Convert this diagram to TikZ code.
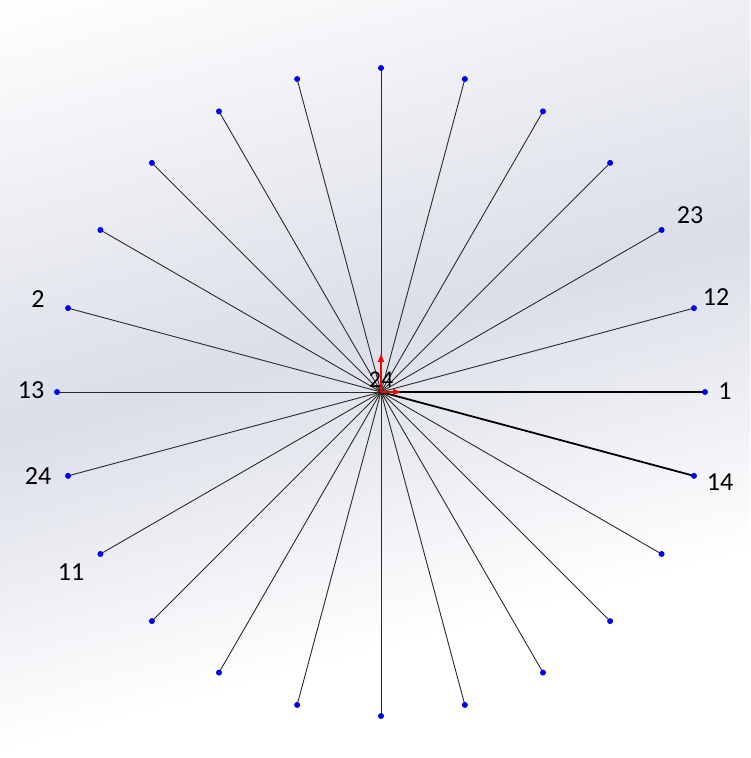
\documentclass[tikz,border=0pt]{standalone}
\usepackage{fontspec}
\setmainfont{Carlito}
\usetikzlibrary{arrows.meta}
\definecolor{bgmid}{HTML}{DBDEE8}
\definecolor{spoke}{HTML}{2A2A2A}
\definecolor{dotblue}{HTML}{0000F0}
\begin{document}
\begin{tikzpicture}[x=1pt,y=1pt,
  dot/.style={circle,fill=dotblue,inner sep=0pt,minimum size=6pt},
  spokeline/.style={draw=spoke,line width=0.9pt},
  boldspoke/.style={draw=black,line width=1.8pt},
  lbl/.style={font=\fontsize{26}{30}\selectfont,inner sep=0pt,text=black},
  clbl/.style={font=\fontsize{24}{28}\selectfont,inner sep=0pt,text=black},
  axisarrow/.style={draw=red,line width=1.1pt,-{Triangle[length=8pt,width=6pt]},red}]
\useasboundingbox (0,0) rectangle (750,758);
% background
\fill[white] (0,0) rectangle (750,758);
\begin{scope}
  \clip (0,0) rectangle (750,758);
  \begin{scope}[transform canvas={rotate around={15:(381,428)}}]
    \shade[top color=white,bottom color=bgmid] (-600,428) rectangle (1400,848);
    \shade[top color=bgmid,bottom color=white] (-600,118) rectangle (1400,428);
  \end{scope}
\end{scope}
% centre and spoke ends
\coordinate (c) at (381,366);
\foreach \k in {0,...,23}{
  \coordinate (q\k) at ([shift={(\k*15:324)}]c);
}
\foreach \k in {1,...,22}{
  \draw[spokeline] (c) -- (q\k);
}
\draw[boldspoke] (c) -- (q0);
\draw[boldspoke] (c) -- (q23);
\foreach \k in {0,...,23}{
  \node[dot] (p\k) at (q\k) {};
}
% labels
\node[lbl] (l1)  at (725,367) {1};
\node[lbl] (l12) at (716,461) {12};
\node[lbl] (l23) at (690,543) {23};
\node[lbl] (l14) at (720,276) {14};
\node[lbl] (l2)  at (38,459) {2};
\node[lbl] (l13) at (31,368) {13};
\node[lbl] (l24) at (38,282) {24};
\node[lbl] (l11) at (71,186) {11};
\node[clbl] (lc) at (381,378) {24};
% axis triad
\coordinate (ay) at (381,404);
\coordinate (ax) at (401,366);
\draw[axisarrow] (c) -- (ay);
\draw[axisarrow] (c) -- (ax);
\end{tikzpicture}
\end{document}
